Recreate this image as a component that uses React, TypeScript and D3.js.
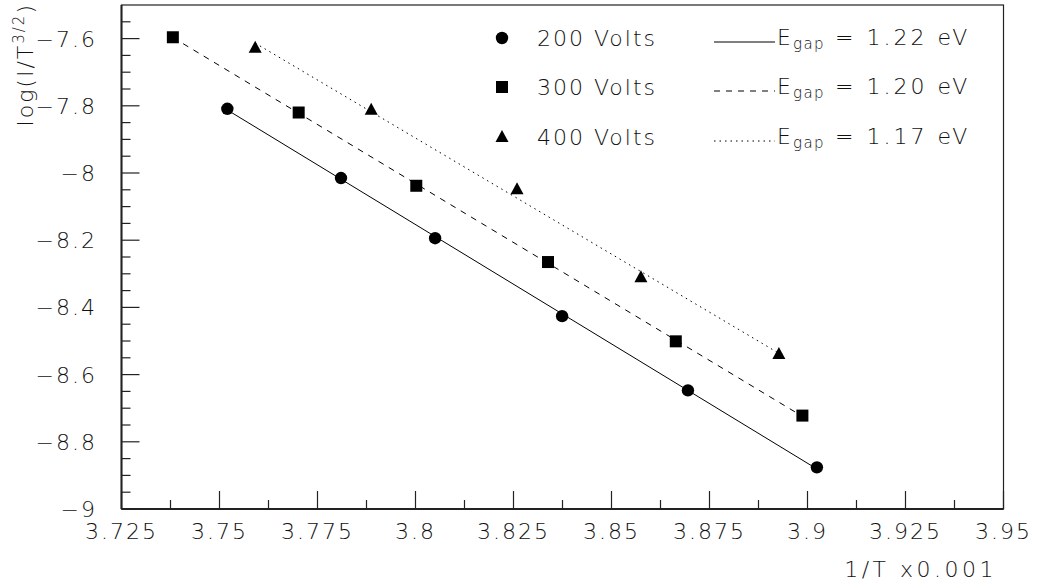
import React from "react";
import * as d3 from "d3";

// ---- data ----
const x200 = [3.752, 3.781, 3.805, 3.8374, 3.8695, 3.9024];
const y200 = [-7.809, -8.015, -8.194, -8.426, -8.647, -8.876];
const x300 = [3.7381, 3.7702, 3.8002, 3.8338, 3.8664, 3.8987];
const y300 = [-7.596, -7.82, -8.038, -8.265, -8.501, -8.722];
const x400 = [3.7591, 3.7887, 3.8259, 3.8575, 3.8927];
const y400 = [-7.627, -7.812, -8.048, -8.31, -8.539];

const seriesLabels = ["200 Volts", "300 Volts", "400 Volts"];
const gapValues = ["1.22", "1.20", "1.17"];

const xTickValues = [3.725, 3.75, 3.775, 3.8, 3.825, 3.85, 3.875, 3.9, 3.925, 3.95];
const xTickLabels = ["3.725", "3.75", "3.775", "3.8", "3.825", "3.85", "3.875", "3.9", "3.925", "3.95"];
const yTickValues = [-9, -8.8, -8.6, -8.4, -8.2, -8, -7.8, -7.6];
const yTickLabels = ["\u22129", "\u22128.8", "\u22128.6", "\u22128.4", "\u22128.2", "\u22128", "\u22127.8", "\u22127.6"];

const W = 1037;
const H = 588;
const left = 121.5;
const right = 1003.5;
const top = 5;
const bottom = 509;

const FONT = "'DejaVu Sans', sans-serif";
const FS = 22;
const LS = 2;

function fit(xs: number[], ys: number[]) {
  const mx = d3.mean(xs)!;
  const my = d3.mean(ys)!;
  let num = 0;
  let den = 0;
  xs.forEach((x, i) => {
    num += (x - mx) * (ys[i] - my);
    den += (x - mx) * (x - mx);
  });
  const b = num / den;
  const a = my - b * mx;
  const [x0, x1] = d3.extent(xs) as [number, number];
  return [
    [x0, a + b * x0],
    [x1, a + b * x1],
  ] as [number, number][];
}

function Marker({ kind, cx, cy }: { kind: number; cx: number; cy: number }) {
  if (kind === 0) return <circle cx={cx} cy={cy} r={6.2} fill="#000" />;
  if (kind === 1) return <rect x={cx - 6} y={cy - 6} width={12} height={12} fill="#000" />;
  return <path d={`M${cx},${cy - 7}L${cx + 6.5},${cy + 5}L${cx - 6.5},${cy + 5}Z`} fill="#000" />;
}

export default function App() {
  const x = d3.scaleLinear().domain([3.725, 3.95]).range([left, right]);
  const y = d3.scaleLinear().domain([-9, -7.5]).range([bottom, top]);

  const series = [
    { xs: x200, ys: y200, dash: "none" },
    { xs: x300, ys: y300, dash: "6 6" },
    { xs: x400, ys: y400, dash: "1.5 4" },
  ];

  const line = d3
    .line<[number, number]>()
    .x((d) => x(d[0]))
    .y((d) => y(d[1]));

  const xMinor = d3.range(0, 9).map((i) => 3.725 + 0.0125 + i * 0.025);
  const yMinor = d3.range(0, 30).map((i) => -9 + i * 0.05).filter((v, i) => i % 4 !== 0);

  const legendY = [38, 87, 137];

  return (
    <svg
      width={W}
      height={H}
      style={{ position: "fixed", left: 0, top: 0, background: "#fff" }}
      fontFamily={FONT}
    >
      <rect x={0} y={0} width={W} height={H} fill="#fff" />
      {/* frame */}
      <rect x={left} y={top} width={right - left} height={bottom - top} fill="none" stroke="#222" strokeWidth={1.2} />
      <line x1={left} y1={top} x2={left} y2={bottom} stroke="#222" strokeWidth={2} />
      <line x1={left} y1={bottom} x2={right} y2={bottom} stroke="#222" strokeWidth={2} />

      {/* x ticks */}
      {xTickValues.map((v, i) => (
        <g key={"xt" + i}>
          <line x1={x(v)} x2={x(v)} y1={bottom} y2={bottom - 18} stroke="#222" strokeWidth={1.2} />
          <text
            x={x(v)}
            y={539}
            textAnchor="middle"
            fontSize={FS}
            letterSpacing={LS}
            fontWeight={200}
            fill="#111"
          >
            {xTickLabels[i]}
          </text>
        </g>
      ))}
      {xMinor.map((v, i) => (
        <line key={"xm" + i} x1={x(v)} x2={x(v)} y1={bottom} y2={bottom - 9} stroke="#222" strokeWidth={1.2} />
      ))}

      {/* y ticks */}
      {yTickValues.map((v, i) => (
        <g key={"yt" + i}>
          <line x1={left} x2={left + 18} y1={y(v)} y2={y(v)} stroke="#222" strokeWidth={1.2} />
          <text
            x={97}
            y={y(v)}
            dy="0.36em"
            textAnchor="end"
            fontSize={FS}
            letterSpacing={LS}
            fontWeight={200}
            fill="#111"
          >
            {yTickLabels[i]}
          </text>
        </g>
      ))}
      {yMinor.map((v, i) => (
        <line key={"ym" + i} x1={left} x2={left + 9} y1={y(v)} y2={y(v)} stroke="#222" strokeWidth={1.2} />
      ))}

      {/* axis titles */}
      <text
        transform="translate(33,3) rotate(-90)"
        textAnchor="end"
        fontSize={FS}
        letterSpacing={LS}
        fontWeight={200}
        fill="#111"
      >
        log(I/T
        <tspan fontSize={15} dy={-9}>3/2</tspan>
        <tspan dy={9}>)</tspan>
      </text>
      <text x={997} y={577} textAnchor="end" fontSize={FS} letterSpacing={3.5} fontWeight={200} fill="#111">
        1/T x0.001
      </text>

      {/* fit lines */}
      {series.map((s, i) => (
        <path
          key={"fit" + i}
          d={line(fit(s.xs, s.ys)) || ""}
          fill="none"
          stroke="#000"
          strokeWidth={1}
          strokeDasharray={s.dash}
        />
      ))}

      {/* markers */}
      {series.map((s, i) =>
        s.xs.map((xv, j) => <Marker key={`m${i}-${j}`} kind={i} cx={x(xv)} cy={y(s.ys[j])} />)
      )}

      {/* legend */}
      {seriesLabels.map((lab, i) => (
        <g key={"lg" + i}>
          <Marker kind={i} cx={502} cy={legendY[i]} />
          <text
            x={537}
            y={legendY[i]}
            dy="0.36em"
            fontSize={FS}
            letterSpacing={LS}
            fontWeight={200}
            fill="#111"
          >
            {lab}
          </text>
          <line
            x1={714}
            x2={775}
            y1={legendY[i] + 4}
            y2={legendY[i] + 4}
            stroke="#000"
            strokeWidth={1}
            strokeDasharray={series[i].dash}
          />
          <text x={777} y={legendY[i] + 7} fontSize={FS} letterSpacing={LS} fontWeight={200} fill="#111">
            E
            <tspan fontSize={15} dy={4} letterSpacing={1.5}>gap</tspan>
            <tspan dy={-4} letterSpacing={3}>{` = ${gapValues[i]} eV`}</tspan>
          </text>
        </g>
      ))}
    </svg>
  );
}
